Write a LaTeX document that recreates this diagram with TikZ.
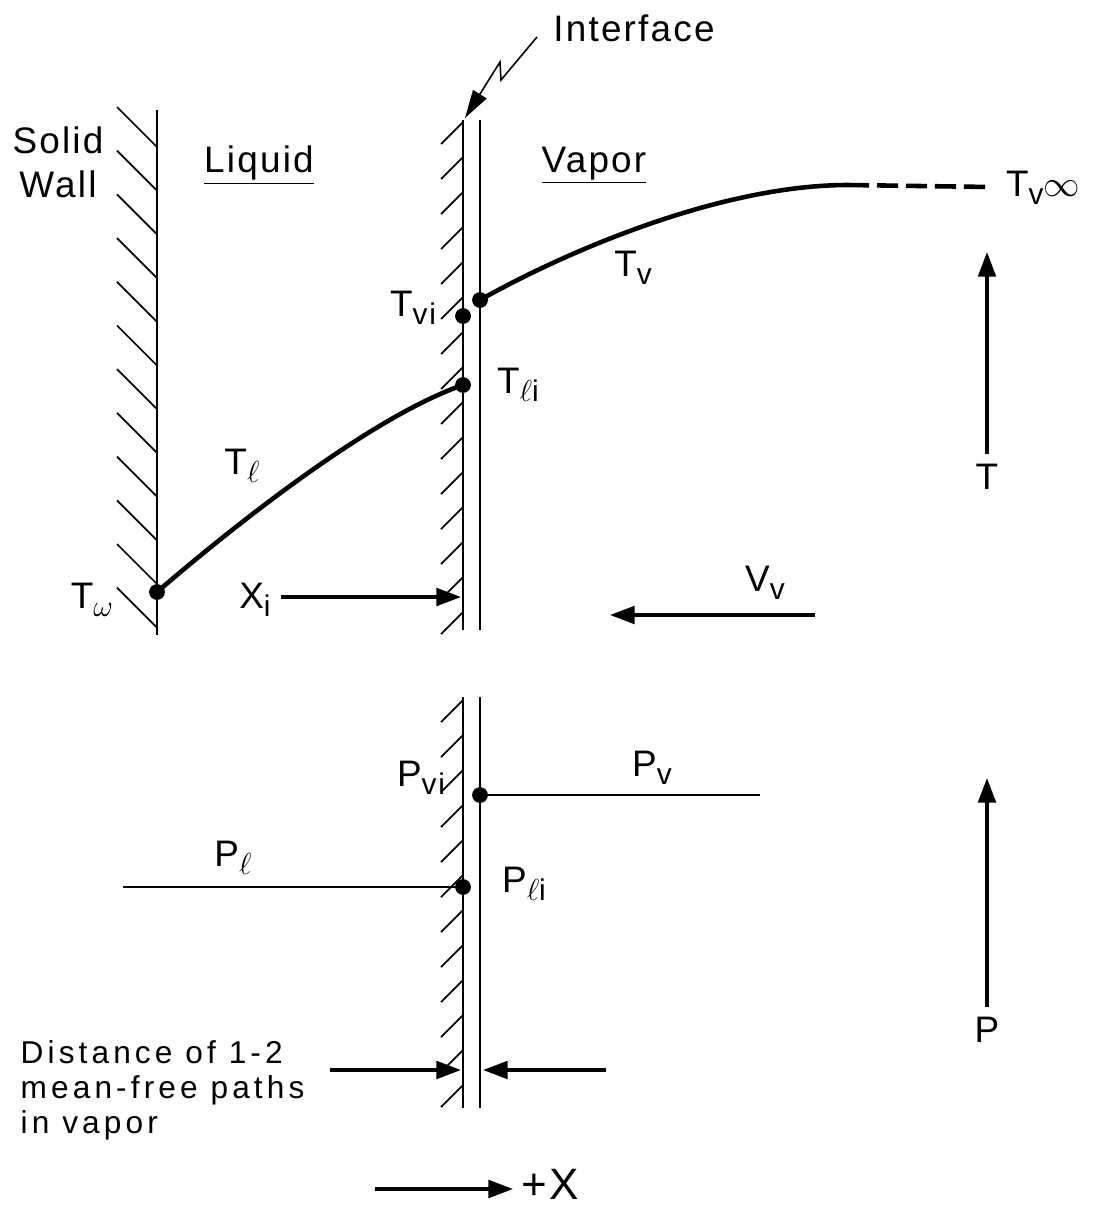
\documentclass[tikz,border=0pt]{standalone}
\usepackage{fontspec}
\setmainfont[LetterSpace=6]{Liberation Sans}
\newfontfamily\notefont[LetterSpace=13]{Liberation Sans}
\usetikzlibrary{arrows.meta}
\tikzset{every picture/.append style={thick}}
\tikzset{
  wall/.style={line width=1.6pt},
  hatch/.style={line width=1pt},
  curve/.style={line width=2.6pt},
  dot/.style={circle, fill, inner sep=0pt, minimum size=9pt},
  lbl/.style={font=\fontsize{21}{25}\selectfont, inner sep=1pt},
  note/.style={font=\notefont\fontsize{18}{20}\selectfont, inner sep=0pt, align=left},
  tiparrow/.style={line width=2pt, -{Triangle[length=14pt,width=10pt]}},
}
\newcommand{\subs}[1]{\raisebox{-0.4ex}{\fontsize{17}{17}\selectfont #1}}

\begin{document}
\begin{tikzpicture}[x=0.02cm, y=-0.02cm]
    \useasboundingbox (0,0) rectangle (1106,1210);

    % --- SOLID WALL ---
    \coordinate (wtop) at (157,110);
    \coordinate (wbot) at (157,635);
    \draw[wall] (wtop) -- (wbot);
    \foreach \k in {0,...,11}
        \draw[hatch] (157,{147+43.7*\k}) -- ++(-40,-40);

    % --- INTERFACE (two lines, hatched on liquid side) ---
    \foreach \ya/\yb in {120/630, 697/1108} {
        \draw[wall] (463,\ya) -- (463,\yb);
        \draw[wall] (480,\ya) -- (480,\yb);
    }
    \foreach \y in {122,157,...,612}
        \draw[hatch] (463,\y) -- ++(-22,22);
    \foreach \y in {700,735,...,1090}
        \draw[hatch] (463,\y) -- ++(-22,22);

    % --- TEMPERATURE PROFILE ---
    \node[dot] (Tw) at (157,592) {};
    \node[dot] (Tli) at (463,385) {};
    \node[dot] (Tvi) at (463,316) {};
    \node[dot] (Tvs) at (480,300) {};
    \coordinate (Tfar) at (848,185);
    \coordinate (Tend) at (990,187);
    \draw[curve] (Tw.center) .. controls (237,523) and (373,416) .. (Tli.center);
    \draw[curve] (Tvs.center) .. controls (565,252) and (720,185) .. (Tfar);
    \draw[curve, dash pattern=on 12pt off 4.5pt] (Tfar) -- (Tend);

    % --- PRESSURE PROFILE ---
    \node[dot] (Pvi) at (480,795) {};
    \node[dot] (Pli) at (463,887) {};
    \coordinate (Pvend) at (760,795);
    \coordinate (Plend) at (123,887);
    \draw[line width=1.2pt] (Pvi.center) -- (Pvend);
    \draw[line width=1.2pt] (Plend) -- (Pli.center);

    % --- REGION LABELS ---
    \node[lbl] (interface) at (634,28) {Interface};
    \node[lbl, align=center] (wall) at (58,162) {Solid\\Wall};
    \node[lbl] (liquid) at (259,165) {\underline{Liquid}};
    \node[lbl] (vapor) at (594,165) {\underline{Vapor}};

    % Interface pointer (zigzag)
    \coordinate (zz1) at (537,37);
    \coordinate (zz2) at (501,80);
    \coordinate (zz3) at (500,62);
    \coordinate (zzt) at (465,118);
    \draw[line width=0.9pt, -{Triangle[length=16pt,width=9pt]}] (zz1) -- (zz2) -- (zz3) -- (zzt);

    % --- POINT LABELS ---
    \node[lbl] (lTvinf) at (1043,188) {T\subs{v}$\infty$};
    \node[lbl] (lTv) at (633,268) {T\subs{v}};
    \node[lbl] (lTvi) at (413,308) {T\subs{vi}};
    \node[lbl] (lTli) at (518,385) {T\subs{$\ell$i}};
    \node[lbl] (lTl) at (242,466) {T\subs{$\ell$}};
    \node[lbl] (lTw) at (92,600) {T\subs{$\omega$}};
    \node[lbl] (lPvi) at (421,778) {P\subs{vi}};
    \node[lbl] (lPv) at (652,768) {P\subs{v}};
    \node[lbl] (lPl) at (233,858) {P\subs{$\ell$}};
    \node[lbl] (lPli) at (524,884) {P\subs{$\ell$i}};

    % --- ARROWS ---
    \node[lbl] (lXi) at (255,600) {X\subs{i}};
    \coordinate (Xiend) at (461,597);
    \draw[tiparrow] (lXi.east) ++(8,-3) coordinate (Xistart) -- (Xiend);

    \node[lbl] (lVv) at (765,583) {V\subs{v}};
    \coordinate (Vvs) at (815,615);
    \coordinate (Vve) at (610,615);
    \draw[tiparrow] (Vvs) -- (Vve);

    \node[lbl] (lT) at (987,477) {T};
    \coordinate (Ttip) at (987,252);
    \draw[tiparrow] (lT.north) ++(0,-8) coordinate (Tbase) -- (Ttip);

    \node[lbl] (lP) at (987,1030) {P};
    \coordinate (Ptip) at (987,778);
    \draw[tiparrow] (lP.north) ++(0,-8) coordinate (Pbase) -- (Ptip);

    % Mean-free path gap
    \node[note, anchor=north west] (dist) at (20,1040) {Distance of 1-2\\mean-free paths\\in vapor};
    \coordinate (da) at (330,1070);
    \coordinate (db) at (461,1070);
    \coordinate (dc) at (606,1070);
    \coordinate (dd) at (483,1070);
    \draw[tiparrow] (da) -- (db);
    \draw[tiparrow] (dc) -- (dd);

    % Positive x direction
    \node[lbl, font=\fontsize{25}{28}\selectfont, anchor=west, inner sep=0pt] (lX) at (521,1184) {+X};
    \coordinate (xs) at (375,1189);
    \coordinate (xe) at (513,1189);
    \draw[tiparrow] (xs) -- (xe);
\end{tikzpicture}
\end{document}
